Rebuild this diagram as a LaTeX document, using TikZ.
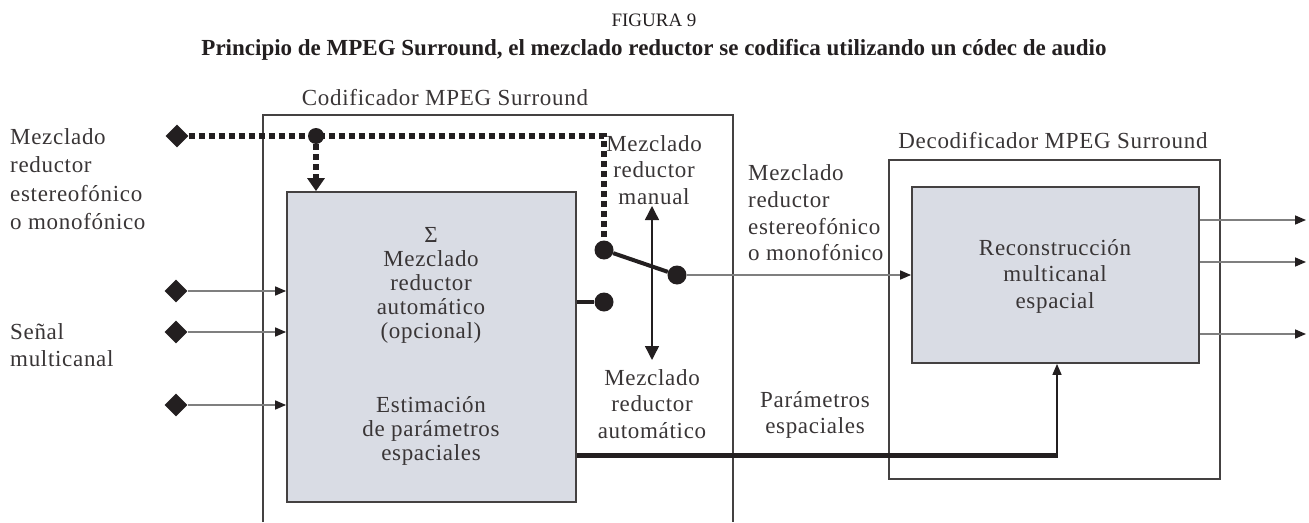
\documentclass[tikz,border=0pt]{standalone}
\usepackage{fontspec}
\setmainfont{Liberation Serif}
\usetikzlibrary{arrows.meta,shapes.geometric}
\definecolor{boxfill}{HTML}{D9DCE4}
\definecolor{ink}{HTML}{231F20}
\definecolor{thin}{HTML}{7F7F7F}
\newcommand{\lbl}[1]{\addfontfeature{LetterSpace=3}\fontsize{23}{#1}\selectfont}
\tikzset{
  txt/.style={font=\lbl{26.5}, text=ink!90, inner sep=0pt, align=center},
  boxtxt/.style={txt, font=\lbl{24}},
  txtl/.style={txt, align=left, anchor=west},
  outline/.style={draw=ink!85, line width=1.8pt},
  graybox/.style={outline, fill=boxfill, inner sep=0pt},
  dmd/.style={diamond, fill=ink, draw=none, minimum size=23pt, inner sep=0pt},
  dot/.style={circle, fill=ink, draw=none, minimum size=19pt, inner sep=0pt},
  jdot/.style={circle, fill=ink, draw=none, minimum size=16pt, inner sep=0pt},
  arr/.style={draw=thin, line width=1.6pt, -{Triangle[length=11pt,width=9pt,color=ink]}},
  darr/.style={draw=ink, line width=1.4pt, {Triangle[length=14pt,width=14pt,color=ink]}-{Triangle[length=14pt,width=14pt,color=ink]}},
  dotted line/.style={draw=ink, line width=6pt, dash pattern=on 6pt off 4pt},
  heavy/.style={draw=ink, line width=4pt},
}
\begin{document}
\begin{tikzpicture}[x=1pt,y=-1pt]
\useasboundingbox (0,0) rectangle (1309,522);

% titles
\node[font=\fontsize{19}{23}\selectfont, text=ink] (fig) at (654,20) {FIGURA 9};
\node[font=\bfseries\fontsize{23}{27}\selectfont, text=ink] (cap) at (654,50)
  {Principio de MPEG Surround, el mezclado reductor se codifica utilizando un códec de audio};

% encoder
\node[txt] (enclab) at (445,98) {Codificador MPEG Surround};
\coordinate (e1) at (263,522);
\coordinate (e2) at (263,115);
\coordinate (e3) at (733,115);
\coordinate (e4) at (733,522);
\draw[outline] (e1) -- (e2) -- (e3) -- (e4);

\node[graybox, minimum width=289pt, minimum height=310pt] (enc) at (431.5,347) {};
\node[boxtxt] (enct1) at (431,285) {Σ\\Mezclado\\reductor\\automático\\(opcional)};
\node[boxtxt] (enct2) at (431,431) {Estimación\\de parámetros\\espaciales};

% left labels
\node[txtl, font=\lbl{28.5}] (ll1) at (10,179) {Mezclado\\reductor\\estereofónico\\o monofónico};
\node[txtl] (ll2) at (10,345) {Señal\\multicanal};

% diamonds
\node[dmd] (d1) at (177,136) {};
\node[dmd] (d2) at (176,291) {};
\node[dmd] (d3) at (176,332) {};
\node[dmd] (d4) at (176,405) {};

\draw[arr] (d2.east) -- (d2 -| enc.west);
\draw[arr] (d3.east) -- (d3 -| enc.west);
\draw[arr] (d4.east) -- (d4 -| enc.west);

% switch
\node[dot] (sa) at (604,250) {};
\node[dot] (sb) at (677,275) {};
\node[dot] (sc) at (604,302) {};
\draw[heavy] (sa) -- (sb);
\draw[heavy] (sc -| enc.east) -- (sc);

% dotted manual downmix
\coordinate (tr) at (604,136);
\node[jdot] (jn) at (316,136) {};
\draw[dotted line] (d1.east) -- (tr) -- (sa.north);
\draw[dotted line, -{Triangle[length=13pt,width=17pt,color=ink]}] (jn.south) -- (jn |- enc.north);

% double arrow
\coordinate (da1) at (652,206);
\coordinate (da2) at (652,360);
\draw[darr] (da1) -- (da2);

\node[txt] (man) at (654,170) {Mezclado\\reductor\\manual};
\node[txt] (aut) at (652,404) {Mezclado\\reductor\\automático};
\node[txtl, font=\lbl{26.7}] (ml) at (748,213) {Mezclado\\reductor\\estereofónico\\o monofónico};
\node[txt] (par) at (815,415) {Parámetros\\espaciales};

% decoder
\node[txt] (declab) at (1053,141) {Decodificador MPEG Surround};
\node[outline, minimum width=331pt, minimum height=319pt, inner sep=0pt] (decout) at (1054.5,319.5) {};
\node[graybox, minimum width=287pt, minimum height=176pt] (dec) at (1055.5,275) {};
\node[txt] (dect) at (1055,276) {Reconstrucción\\multicanal\\espacial};

\draw[arr] (sb.east) -- (sb -| dec.west);

\coordinate (o1) at (1306,220);
\coordinate (o2) at (1306,262);
\coordinate (o3) at (1306,334);
\draw[arr] (o1 -| dec.east) -- (o1);
\draw[arr] (o2 -| dec.east) -- (o2);
\draw[arr] (o3 -| dec.east) -- (o3);

% spatial parameters
\coordinate (pb) at (1057,455);
\draw[heavy, line width=5pt] (pb -| enc.east) -- ([xshift=1pt]pb);
\draw[draw=ink, line width=1.6pt, -{Triangle[length=11pt,width=9pt,color=ink]}] (pb) -- (pb |- dec.south);
\end{tikzpicture}
\end{document}
